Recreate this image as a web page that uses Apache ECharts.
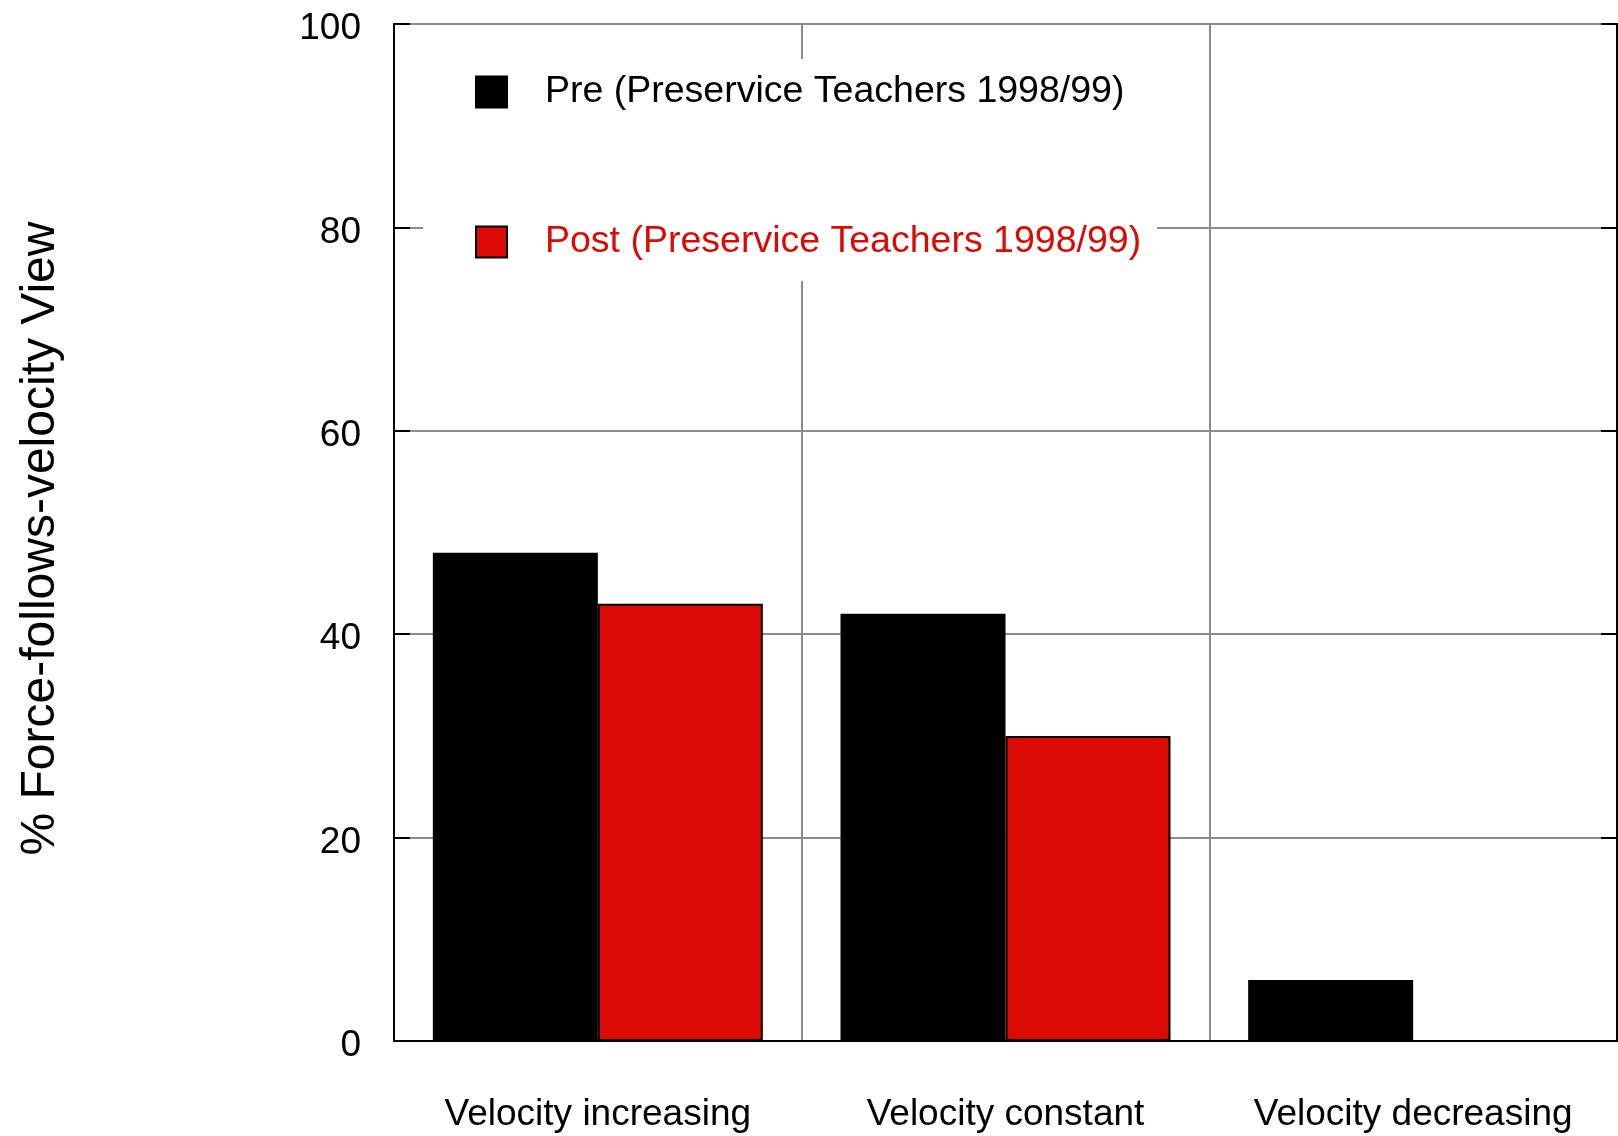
<!DOCTYPE html>
<html>
<head>
<meta charset="utf-8">
<script src="https://cdn.jsdelivr.net/npm/echarts@6/dist/echarts.min.js"></script>
<style>
  html, body { margin: 0; padding: 0; background: #fff; }
  #main { width: 1618px; height: 1136px; }
</style>
</head>
<body>
<div id="main"></div>
<script>
// data
var categories = ['Velocity increasing', 'Velocity constant', 'Velocity decreasing'];
var preValues = [48, 42, 6];
var postValues = [43, 30, 0];
var seriesNames = ['Pre (Preservice Teachers 1998/99)', 'Post (Preservice Teachers 1998/99)'];
var yTicks = [0, 20, 40, 60, 80, 100];

var font = "'Liberation Sans', Arial, sans-serif";
var red = '#dc0a05';
var gridGray = '#8c8c8c';

var myChart = echarts.init(document.getElementById('main'));

var option = {
    backgroundColor: '#fff',
    animation: false,
    textStyle: { fontFamily: font },
    grid: {
        left: 394, top: 24, right: 1, bottom: 95,
        show: true, borderColor: '#000', borderWidth: 2
    },
    legend: {
        orient: 'vertical',
        left: 423, top: 59,
        padding: [13, 16, 19, 52],
        backgroundColor: '#fff',
        itemWidth: 31, itemHeight: 31,
        itemGap: 110,
        selectedMode: false,
        icon: 'rect',
        textStyle: { fontSize: 37.5, fontFamily: font, lineHeight: 40, padding: [0, 0, 0, 33] },
        data: [
            { name: seriesNames[0], textStyle: { color: '#000' } },
            { name: seriesNames[1], textStyle: { color: red } }
        ]
    },
    xAxis: [{
        type: 'category',
        data: categories,
        axisLine: { lineStyle: { color: '#000', width: 2 } },
        axisTick: { inside: true, length: 16, lineStyle: { color: '#000', width: 2 } },
        axisLabel: { fontSize: 37, color: '#000', margin: 55, interval: 0, fontFamily: font },
        splitLine: { show: true, interval: 0, lineStyle: { color: gridGray, width: 2 } }
    }, {
        type: 'category',
        position: 'top',
        data: categories,
        axisLine: { lineStyle: { color: '#000', width: 2 } },
        axisTick: { inside: true, length: 16, lineStyle: { color: '#000', width: 2 } },
        axisLabel: { show: false },
        splitLine: { show: false }
    }],
    yAxis: [{
        type: 'value',
        min: yTicks[0], max: yTicks[yTicks.length - 1], interval: 20,
        name: '% Force-follows-velocity View',
        nameLocation: 'middle',
        nameRotate: 90,
        nameGap: 329,
        nameTextStyle: { fontSize: 48, color: '#000', fontFamily: font, padding: [0, 12, 0, 0] },
        axisLine: { show: true, lineStyle: { color: '#000', width: 2 } },
        axisTick: { show: true, inside: true, length: 16, lineStyle: { color: '#000', width: 2 } },
        axisLabel: {
            fontSize: 37, color: '#000', margin: 33, fontFamily: font,
            verticalAlign: 'top', lineHeight: 10
        },
        splitLine: { show: true, lineStyle: { color: gridGray, width: 2 } }
    }, {
        type: 'value',
        position: 'right',
        min: yTicks[0], max: yTicks[yTicks.length - 1], interval: 20,
        axisLine: { show: true, lineStyle: { color: '#000', width: 2 } },
        axisTick: { show: true, inside: true, length: 16, lineStyle: { color: '#000', width: 2 } },
        axisLabel: { show: false },
        splitLine: { show: false }
    }],
    series: [{
        name: seriesNames[0],
        type: 'bar',
        data: preValues,
        barWidth: 165,
        barGap: '0%',
        itemStyle: { color: '#000', borderColor: '#000', borderWidth: 2 }
    }, {
        name: seriesNames[1],
        type: 'bar',
        data: postValues,
        barWidth: 165,
        barGap: '0%',
        itemStyle: { color: red, borderColor: '#000', borderWidth: 2 }
    }]
};

myChart.setOption(option);
</script>
</body>
</html>
